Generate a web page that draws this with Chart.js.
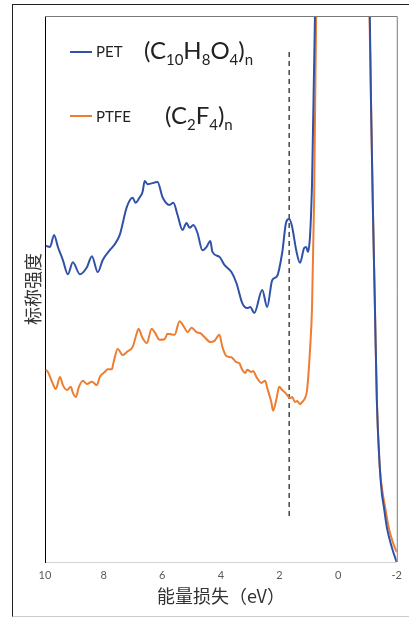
<!DOCTYPE html>
<html>
<head>
<meta charset="utf-8">
<script src="https://cdn.jsdelivr.net/npm/chart.js@4.4.1/dist/chart.umd.min.js"></script>
<style>
  body { margin: 0; background: #fff; }
  #wrap { position: relative; width: 409px; height: 617px; overflow: hidden; }
  #frame { position: absolute; left: 12px; top: 4px; width: 420px; height: 611px;
           border-left: 1px solid #222; border-top: 1px solid #222; border-bottom: 1px solid #ccc; }
  canvas { position: absolute; left: 0; top: 0; }
  .key { position: absolute; height: 2px; width: 22px; }
  .lbl { position: absolute; font-family: Lato, "Open Sans", sans-serif; color: #222; white-space: nowrap; }
  .lbl.small { font-size: 15px; line-height: 15px; }
  .lbl.big { font-size: 24px; line-height: 24px; }
  .lbl sub { font-size: 15px; vertical-align: -6px; line-height: 0; }
</style>
</head>
<body>
<div id="wrap">
  <div id="frame"></div>
  <canvas id="chart" width="409" height="617"></canvas>
  <div class="key" style="left:70px;top:51px;background:#2F52A8"></div>
  <div class="lbl small" style="left:96px;top:44px">PET</div>
  <div class="lbl big" style="left:144px;top:38px">(C<sub>10</sub>H<sub>8</sub>O<sub>4</sub>)<sub>n</sub></div>
  <div class="key" style="left:70px;top:115px;background:#ED7D31"></div>
  <div class="lbl small" style="left:96px;top:109px">PTFE</div>
  <div class="lbl big" style="left:165px;top:103px">(C<sub>2</sub>F<sub>4</sub>)<sub>n</sub></div>
</div>
<script>
// energy loss (eV) and intensity (arb. units, 0-100 on the visible scale)
const petX = [9.97, 9.83, 9.69, 9.56, 9.39, 9.22, 9.05, 8.81, 8.57, 8.40, 8.20, 8.03, 7.79, 7.62, 7.45,
  7.21, 7.01, 6.91, 6.77, 6.67, 6.60, 6.50, 6.16, 5.99, 5.75, 5.62, 5.48, 5.31, 5.17, 5.07, 4.94,
  4.80, 4.63, 4.49, 4.36, 4.29, 4.05, 3.88, 3.64, 3.47, 3.27, 3.10, 3.00, 2.86, 2.59, 2.42, 2.25,
  2.08, 1.91, 1.77, 1.67, 1.57, 1.43, 1.30, 1.16, 1.09, 1.03, 0.89, 0.79, 0.70, -1.00,
  -1.08, -1.12, -1.18, -1.25, -1.32, -1.42, -1.49, -1.56, -1.66, -1.83, -1.97, -2.00];
const petY = [57.9, 57.7, 59.9, 57.7, 55.3, 52.7, 54.9, 52.7, 54.0, 56.0, 53.1, 55.3, 57.1, 58.2, 59.9,
  65.0, 66.7, 65.8, 66.8, 67.8, 69.8, 69.2, 69.6, 66.8, 65.4, 65.8, 63.6, 60.8, 62.1, 61.2, 61.7,
  60.3, 57.1, 57.7, 58.8, 56.8, 55.9, 54.4, 53.1, 51.1, 47.4, 46.5, 46.7, 45.6, 49.8, 46.7, 51.6,
  52.4, 56.6, 62.3, 62.8, 61.4, 57.1, 54.8, 57.5, 57.7, 56.8, 69.4, 100, 110, 110,
  100, 84.6, 66.3, 48.0, 29.7, 17.4, 12.6, 10.1, 6.4, 2.7, 0.4, 0];

const ptfeX = [9.97, 9.90, 9.76, 9.63, 9.49, 9.39, 9.25, 9.12, 9.05, 8.95, 8.84, 8.71, 8.57, 8.40, 8.23,
  8.13, 7.96, 7.86, 7.72, 7.66, 7.52, 7.35, 7.18, 7.01, 6.87, 6.81, 6.67, 6.53, 6.36, 6.26, 6.09,
  5.92, 5.82, 5.58, 5.41, 5.24, 5.14, 5.00, 4.83, 4.70, 4.56, 4.36, 4.22, 4.05, 3.95, 3.81, 3.64,
  3.47, 3.37, 3.27, 3.17, 3.10, 2.96, 2.90, 2.79, 2.62, 2.49, 2.42, 2.28, 2.22, 2.11, 2.01, 1.91,
  1.77, 1.64, 1.57, 1.47, 1.40, 1.30, 1.23, 1.13, 1.06, 0.96, 0.89, 0.82, 0.75, 0.70, -1.00,
  -1.07, -1.12, -1.18, -1.25, -1.32, -1.42, -1.52, -1.62, -1.73, -1.90, -2.00];
const ptfeY = [35.2, 34.8, 33.0, 31.7, 33.9, 32.4, 31.5, 32.1, 31.0, 30.2, 32.1, 33.2, 32.6, 33.0, 32.4,
  33.9, 34.8, 35.3, 35.3, 36.6, 39.0, 37.9, 38.6, 39.4, 41.9, 42.7, 41.0, 40.1, 42.7, 42.1, 40.7,
  40.8, 41.8, 41.6, 44.1, 42.9, 42.1, 42.9, 42.1, 41.9, 41.2, 40.3, 40.5, 41.6, 39.4, 37.7, 37.5,
  36.6, 36.4, 35.2, 34.6, 35.2, 34.8, 35.0, 33.9, 32.8, 33.2, 31.9, 29.3, 27.7, 29.7, 32.1, 31.5,
  30.8, 30.0, 30.2, 29.3, 29.5, 28.9, 29.3, 30.0, 31.5, 38.8, 46.7, 66.3, 100, 110, 110,
  100, 84.6, 66.3, 48.0, 29.7, 17.4, 12.6, 9.5, 6.2, 3.1, 1.8];

const markerX = [1.67, 1.67];
const markerY = [93.4, 8.4];

const xTicks = [10, 8, 6, 4, 2, 0, -2];

function toPoints(xs, ys) {
  return xs.map((x, i) => ({ x: x, y: ys[i] }));
}

const plotFrame = {
  id: "plotFrame",
  afterDraw(chart) {
    const { ctx, chartArea: a } = chart;
    ctx.save();
    ctx.lineWidth = 1;
    ctx.strokeStyle = "#7a7a7a";
    ctx.beginPath();
    ctx.moveTo(a.left, a.top + 0.5);
    ctx.lineTo(a.right + 0.5, a.top + 0.5);
    ctx.lineTo(a.right + 0.5, a.bottom);
    ctx.stroke();
    ctx.restore();
  }
};

new Chart(document.getElementById("chart"), {
  type: "line",
  data: {
    datasets: [
      { label: "PET", data: toPoints(petX, petY), borderColor: "#2F52A8", borderWidth: 2,
        pointRadius: 0, cubicInterpolationMode: "monotone" },
      { label: "PTFE", data: toPoints(ptfeX, ptfeY), borderColor: "#ED7D31", borderWidth: 2,
        pointRadius: 0, cubicInterpolationMode: "monotone" },
      { label: "marker", data: toPoints(markerX, markerY), borderColor: "#444", borderWidth: 1.5,
        borderDash: [5, 4], pointRadius: 0 }
    ]
  },
  options: {
    responsive: false,
    animation: false,
    layout: { padding: { top: 16, right: 11, left: 0, bottom: 0 } },
    plugins: { legend: { display: false }, tooltip: { enabled: false } },
    scales: {
      x: {
        type: "linear", reverse: true, min: -2, max: 10,
        afterBuildTicks: s => { s.ticks = xTicks.map(v => ({ value: v })); },
        afterFit: s => { s.height = 55; },
        grid: { display: false, drawTicks: false },
        border: { display: true, color: "#d4d4d4", width: 1 },
        ticks: { padding: 7, color: "#595959", font: { family: "Lato", size: 11 }, maxRotation: 0 },
        title: { display: true, text: "能量损失（eV）", color: "#333",
                 font: { family: "Noto Sans CJK SC", size: 18 }, padding: { top: 0, bottom: 10 } }
      },
      y: {
        min: 0, max: 100,
        afterFit: s => { s.width = 45; },
        grid: { display: false, drawTicks: false },
        border: { display: true, color: "#000", width: 1 },
        ticks: { display: false },
        title: { display: true, text: "标称强度", color: "#333",
                 font: { family: "Noto Sans CJK SC", size: 18 }, padding: { top: 22, bottom: 0 } }
      }
    }
  },
  plugins: [plotFrame]
});
</script>
</body>
</html>
